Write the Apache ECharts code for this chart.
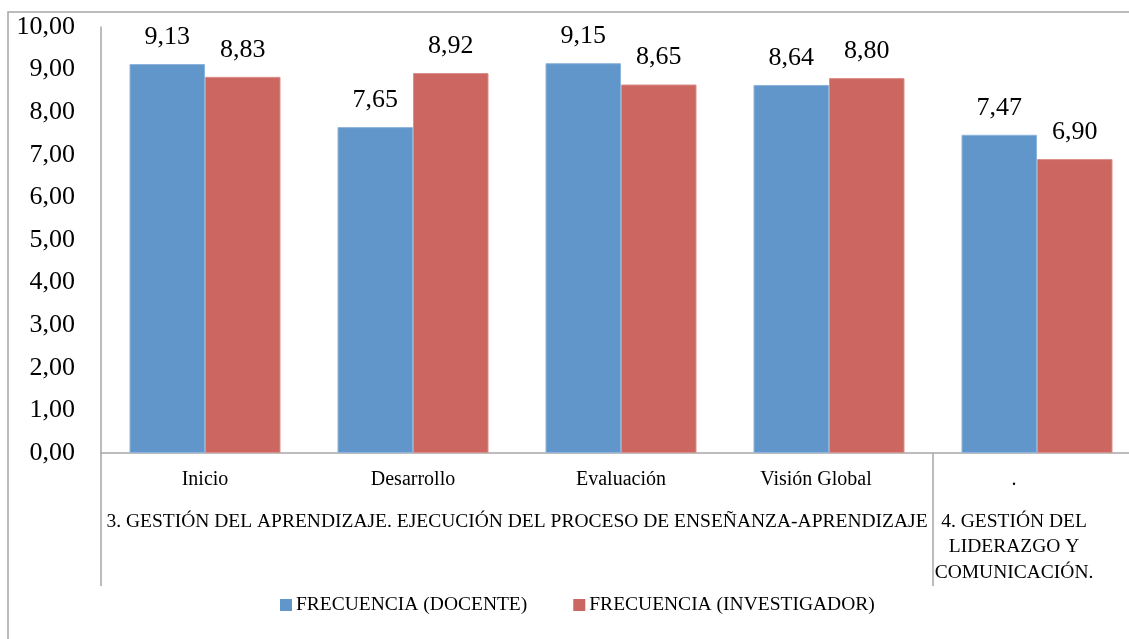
<!DOCTYPE html>
<html>
<head>
<meta charset="utf-8">
<title>Frecuencia docente / investigador</title>
<script src="https://cdn.jsdelivr.net/npm/echarts@6/dist/echarts.min.js"></script>
<style>
  html, body { margin: 0; padding: 0; background: #fff; overflow: hidden; }
  /* el lienzo es algo más ancho que la ventana: el gráfico original queda cortado a la derecha */
  #chart { width: 1160px; height: 639px; }
</style>
</head>
<body>
<div id="chart"></div>
<script>
// datos del gráfico
const categorias = ['Inicio', 'Desarrollo', 'Evaluación', 'Visión Global', '.']
const grupos = [
  { texto: '3. GESTIÓN DEL APRENDIZAJE. EJECUCIÓN DEL PROCESO DE ENSEÑANZA-APRENDIZAJE', desde: 0, hasta: 3 },
  { texto: '4. GESTIÓN DEL\nLIDERAZGO Y\nCOMUNICACIÓN.', desde: 4, hasta: 4 }
]
const docente = [9.13, 7.65, 9.15, 8.64, 7.47]
const investigador = [8.83, 8.92, 8.65, 8.80, 6.90]
const nombres = ['FRECUENCIA (DOCENTE)', 'FRECUENCIA (INVESTIGADOR)']

const fuente = 'Liberation Serif'
const gris = '#a6a6a6'
const coma = v => v.toFixed(2).replace('.', ',')

const chart = echarts.init(document.getElementById('chart'), null, { renderer: 'canvas' })

const etiquetaBarra = {
  show: true,
  position: 'top',
  distance: 14,
  fontFamily: fuente,
  fontSize: 26,
  color: '#000',
  formatter: p => coma(p.value)
}

// Excel desplaza un poco las dos últimas etiquetas hacia la izquierda
const catData = categorias.map((c, i) => {
  if (i === 3) return { value: c, textStyle: { padding: [0, 26, 0, 0] } }
  if (i === 4) return { value: c, textStyle: { padding: [0, 46, 0, 0] } }
  return c
})

const option = {
  animation: false,
  textStyle: { fontFamily: fuente },
  grid: { left: 101, top: 27, bottom: 186, width: 1040 },
  legend: {
    data: nombres,
    left: 280,
    top: 595,
    padding: 0,
    itemGap: 46,
    itemWidth: 12,
    itemHeight: 12,
    icon: 'rect',
    itemStyle: { borderWidth: 0 },
    textStyle: { fontFamily: fuente, fontSize: 19.5, color: '#000', padding: [0, 0, 0, -1] }
  },
  xAxis: {
    type: 'category',
    data: catData,
    axisLine: { lineStyle: { color: gris, width: 1.5 } },
    axisTick: {
      show: true,
      alignWithLabel: false,
      interval: i => i === 0 || i === 4,
      length: 133,
      lineStyle: { color: gris, width: 1.5 }
    },
    axisLabel: { fontFamily: fuente, fontSize: 20, color: '#000', margin: 17, interval: 0 }
  },
  yAxis: {
    type: 'value',
    min: 0,
    max: 10,
    interval: 1,
    axisLine: { show: true, lineStyle: { color: gris, width: 1.5 } },
    axisTick: { show: false },
    splitLine: { show: false },
    axisLabel: { fontFamily: fuente, fontSize: 26, color: '#000', margin: 26, formatter: v => coma(v) }
  },
  series: [
    {
      name: nombres[0],
      type: 'bar',
      data: docente,
      barWidth: 75.5,
      barGap: '0%',
      itemStyle: { color: '#6096c9', borderColor: '#8db4dc', borderWidth: 1 },
      label: etiquetaBarra
    },
    {
      name: nombres[1],
      type: 'bar',
      data: investigador,
      barWidth: 75.5,
      itemStyle: { color: '#cc6660', borderColor: '#dc8e8a', borderWidth: 1 },
      label: etiquetaBarra
    }
  ]
}

chart.setOption(option)

// etiquetas del segundo nivel del eje X y marco exterior
const centro = (a, b) => (chart.convertToPixel({ xAxisIndex: 0 }, a) + chart.convertToPixel({ xAxisIndex: 0 }, b)) / 2

chart.setOption({
  graphic: [
    {
      type: 'rect',
      silent: true,
      shape: { x: 8, y: 12, width: 1300, height: 800 },
      style: { fill: 'none', stroke: gris, lineWidth: 1.5 }
    },
    {
      type: 'text',
      x: centro(grupos[0].desde, grupos[0].hasta),
      y: 522,
      style: {
        text: grupos[0].texto,
        font: '19.5px "Liberation Serif"',
        fill: '#000',
        align: 'center',
        verticalAlign: 'middle'
      }
    },
    {
      type: 'text',
      x: centro(grupos[1].desde, grupos[1].hasta) - 23,
      y: 547,
      style: {
        text: grupos[1].texto,
        font: '19.5px "Liberation Serif"',
        lineHeight: 25.5,
        fill: '#000',
        align: 'center',
        verticalAlign: 'middle'
      }
    }
  ]
})

window.addEventListener('resize', () => chart.resize())
</script>
</body>
</html>
